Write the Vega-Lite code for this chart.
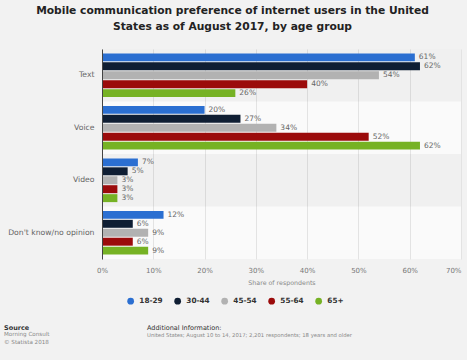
{
  "$schema": "https://vega.github.io/schema/vega-lite/v6.json",
  "background": "#f2f2f2",
  "padding": {"left": 4, "top": 5, "right": 6, "bottom": 4},
  "title": {
    "text": ["Mobile communication preference of internet users in the United", "States as of August 2017, by age group"],
    "anchor": "middle",
    "frame": "bounds",
    "font": "DejaVu Sans",
    "fontSize": 10.7,
    "fontWeight": "bold",
    "color": "#222222",
    "lineHeight": 16,
    "offset": 16
  },
  "datasets": {
    "survey": [
      {"category": "Text", "age": "18-29", "share": 0.61},
      {"category": "Text", "age": "30-44", "share": 0.62},
      {"category": "Text", "age": "45-54", "share": 0.54},
      {"category": "Text", "age": "55-64", "share": 0.40},
      {"category": "Text", "age": "65+", "share": 0.26},
      {"category": "Voice", "age": "18-29", "share": 0.20},
      {"category": "Voice", "age": "30-44", "share": 0.27},
      {"category": "Voice", "age": "45-54", "share": 0.34},
      {"category": "Voice", "age": "55-64", "share": 0.52},
      {"category": "Voice", "age": "65+", "share": 0.62},
      {"category": "Video", "age": "18-29", "share": 0.07},
      {"category": "Video", "age": "30-44", "share": 0.05},
      {"category": "Video", "age": "45-54", "share": 0.03},
      {"category": "Video", "age": "55-64", "share": 0.03},
      {"category": "Video", "age": "65+", "share": 0.03},
      {"category": "Don't know/no opinion", "age": "18-29", "share": 0.12},
      {"category": "Don't know/no opinion", "age": "30-44", "share": 0.06},
      {"category": "Don't know/no opinion", "age": "45-54", "share": 0.09},
      {"category": "Don't know/no opinion", "age": "55-64", "share": 0.06},
      {"category": "Don't know/no opinion", "age": "65+", "share": 0.09}
    ]
  },
  "spacing": 38,
  "vconcat": [
    {
      "width": 359,
      "height": 210,
      "data": {"name": "survey"},
      "view": {"fill": "#fafafa", "stroke": null},
      "encoding": {
        "y": {
          "field": "category",
          "type": "nominal",
          "sort": ["Text", "Voice", "Video", "Don't know/no opinion"],
          "scale": {"paddingInner": 0, "paddingOuter": 0},
          "axis": {
            "title": null,
            "ticks": false,
            "domain": true,
            "domainColor": "#444444",
            "domainWidth": 1,
            "grid": false,
            "labelFont": "DejaVu Sans",
            "labelFontSize": 7.7,
            "labelColor": "#666666",
            "labelPadding": 8
          }
        }
      },
      "layer": [
        {
          "transform": [{"filter": "(datum.category == 'Text' || datum.category == 'Video') && datum.age == '18-29'"}],
          "mark": {"type": "rect", "fill": "#000000", "fillOpacity": 0.04}
        },
        {
          "mark": {"type": "bar"},
          "encoding": {
            "x": {
              "field": "share",
              "type": "quantitative",
              "scale": {"domain": [0, 0.7]},
              "axis": {
                "title": "Share of respondents",
                "values": [0, 0.1, 0.2, 0.3, 0.4, 0.5, 0.6, 0.7],
                "format": ".0%",
                "grid": true,
                "gridColor": "#e3e3e3",
                "domain": false,
                "ticks": false,
                "labelFont": "DejaVu Sans",
                "labelFontSize": 7,
                "labelColor": "#777777",
                "labelPadding": 7,
                "labelAlign": {"condition": {"test": "datum.value >= 0.69", "value": "right"}, "value": "center"},
                "titleFont": "DejaVu Sans",
                "titleFontSize": 6.3,
                "titleFontWeight": "normal",
                "titleColor": "#888888",
                "titlePadding": 6
              }
            },
            "yOffset": {
              "field": "age",
              "type": "nominal",
              "sort": ["18-29", "30-44", "45-54", "55-64", "65+"],
              "scale": {"paddingInner": 0.11, "paddingOuter": 0.49}
            },
            "color": {
              "field": "age",
              "type": "nominal",
              "scale": {
                "domain": ["18-29", "30-44", "45-54", "55-64", "65+"],
                "range": ["#2b6fd1", "#0f1e33", "#b2b2b2", "#9b0b0b", "#76b224"]
              },
              "legend": {
                "title": null,
                "orient": "none",
                "direction": "horizontal",
                "legendX": 25,
                "legendY": 248,
                "symbolType": "circle",
                "symbolSize": 45,
                "symbolStrokeWidth": 0,
                "labelFont": "DejaVu Sans",
                "labelFontSize": 7.3,
                "labelFontWeight": "bold",
                "labelColor": "#333333",
                "labelOffset": 5,
                "columnPadding": 11
              }
            }
          }
        },
        {
          "mark": {"type": "text", "align": "left", "baseline": "middle", "dx": 4, "font": "DejaVu Sans", "fontSize": 7.5, "color": "#666666"},
          "encoding": {
            "x": {"field": "share", "type": "quantitative"},
            "yOffset": {"field": "age", "type": "nominal", "sort": ["18-29", "30-44", "45-54", "55-64", "65+"]},
            "text": {"field": "share", "type": "quantitative", "format": ".0%"}
          }
        }
      ]
    },
    {
      "spacing": 44,
      "hconcat": [
        {
          "width": 1,
          "height": 1,
          "view": {"stroke": null},
          "title": {
            "text": "Source",
            "subtitle": ["Morning Consult", "© Statista 2018"],
            "anchor": "start",
            "dx": -98,
            "offset": 0,
            "font": "DejaVu Sans",
            "fontSize": 6.5,
            "fontWeight": "bold",
            "color": "#333333",
            "subtitleFont": "DejaVu Sans",
            "subtitleFontSize": 5.6,
            "subtitleColor": "#888888",
            "subtitleLineHeight": 7.6,
            "subtitlePadding": 1
          },
          "data": {"values": [{"blank": ""}]},
          "mark": {"type": "text"},
          "encoding": {"text": {"field": "blank", "type": "nominal"}}
        },
        {
          "width": 1,
          "height": 1,
          "view": {"stroke": null},
          "title": {
            "text": "Additional Information:",
            "subtitle": ["United States; August 10 to 14, 2017; 2,201 respondents; 18 years and older", " "],
            "anchor": "start",
            "offset": 0,
            "font": "DejaVu Sans",
            "fontSize": 6.5,
            "fontWeight": "normal",
            "color": "#333333",
            "subtitleFont": "DejaVu Sans",
            "subtitleFontSize": 5.3,
            "subtitleColor": "#888888",
            "subtitleLineHeight": 7.6,
            "subtitlePadding": 1
          },
          "data": {"values": [{"blank": ""}]},
          "mark": {"type": "text"},
          "encoding": {"text": {"field": "blank", "type": "nominal"}}
        }
      ]
    }
  ]
}
